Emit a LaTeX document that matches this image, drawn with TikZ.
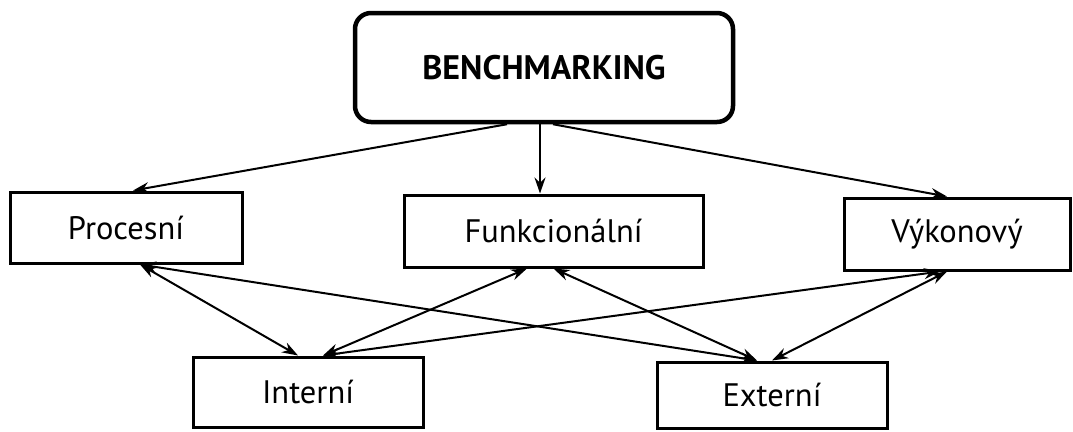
\documentclass[tikz,border=0pt]{standalone}
\usepackage{fontspec}
\setmainfont{PT Sans}
\usepackage{tikz}
\usetikzlibrary{arrows.meta}

\tikzset{
    mainbox/.style={draw, line width=4.5pt, rounded corners=16pt, fill=white,
        minimum width=378pt, minimum height=109pt, inner sep=0pt,
        font=\fontsize{34}{38}\selectfont\bfseries},
    typebox/.style={draw, line width=3pt, fill=white, inner sep=0pt,
        minimum height=71pt, font=\fontsize{32.5}{36}\selectfont},
    link/.style={line width=2pt, -{Stealth[length=16pt,width=11pt]}},
    twolink/.style={line width=2pt, {Stealth[length=16pt,width=11pt]}-{Stealth[length=16pt,width=11pt]}}
}

\begin{document}
\begin{tikzpicture}[x=1pt, y=-1pt]
    \useasboundingbox (0,0) rectangle (1073,431);

    \node[mainbox] (bench) at (544,67.5) {BENCHMARKING};

    \node[typebox, minimum width=232pt] (proc) at (126,227.5) {Procesní};
    \node[typebox, minimum width=299pt, minimum height=72pt] (funk) at (553.5,231) {Funkcionální};
    \node[typebox, minimum width=226pt, minimum height=72pt] (vyk) at (957,234) {Výkonový};

    \node[typebox, minimum width=230pt, minimum height=70pt] (int) at (308,392) {Interní};
    \node[typebox, minimum width=230pt, minimum height=66pt] (ext) at (772,395) {Externí};

    % z hlavniho boxu dolu
    \draw[link] ([xshift=-37pt]bench.south) -- ([xshift=7pt]proc.north);
    \draw[link] ([xshift=-4pt]bench.south) -- ([xshift=-13.5pt]funk.north);
    \draw[link] ([xshift=9pt]bench.south) -- ([xshift=-10pt]vyk.north);

    % oboustranne vazby
    \draw[twolink] ([xshift=14pt]proc.south) -- ([xshift=-10pt]int.north);
    \draw[twolink] ([xshift=14pt]proc.south) -- ([xshift=-15pt]ext.north);
    \draw[twolink] ([xshift=-26.5pt]funk.south) -- ([xshift=15pt]int.north);
    \draw[twolink] ([xshift=0pt]funk.south) -- ([xshift=-15pt]ext.north);
    \draw[twolink] ([xshift=-17pt]vyk.south) -- ([xshift=15pt]int.north);
    \draw[twolink] ([xshift=-10pt]vyk.south) -- ([xshift=0pt]ext.north);
\end{tikzpicture}
\end{document}
